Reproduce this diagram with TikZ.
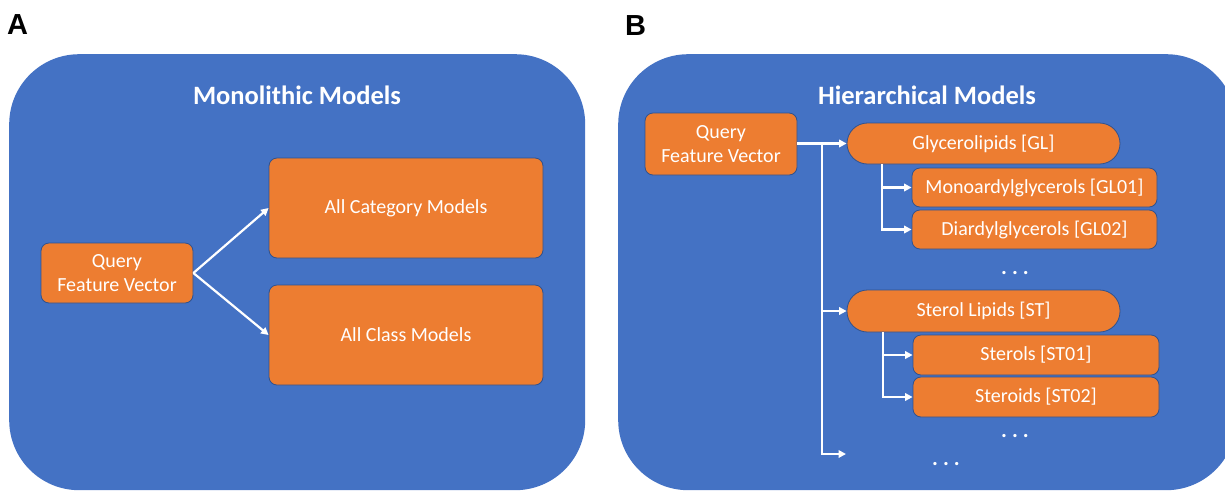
\documentclass[tikz,border=0pt]{standalone}
\usepackage{fontspec}
\setmainfont{Carlito}
\newfontfamily\labfont{Liberation Sans}
\usetikzlibrary{arrows.meta}
\definecolor{panelblue}{HTML}{4472C4}
\definecolor{boxorange}{HTML}{ED7D31}
\definecolor{boxline}{HTML}{2F528F}
\tikzset{
  panel/.style={fill=panelblue, rounded corners=70pt, inner sep=0pt, anchor=north west},
  obox/.style={fill=boxorange, draw=boxline, line width=0.8pt, rounded corners=8pt,
    text=white, font=\fontsize{20}{24}\selectfont, align=center, inner sep=0pt, anchor=center},
  pill/.style={obox, rounded corners=20.5pt},
  ttl/.style={text=white, font=\bfseries\fontsize{26.5}{30}\selectfont, anchor=base, inner sep=0pt},
  plabel/.style={font=\labfont\bfseries\fontsize{29}{32}\selectfont, anchor=base west, inner sep=0pt},
  dotsx/.style={text=white, font=\bfseries\fontsize{22}{24}\selectfont, inner sep=0pt},
  arr/.style={draw=white, line width=2.2pt, -{Triangle[length=7.5pt,width=7.5pt]}}
}
\begin{document}
\begin{tikzpicture}[x=1pt,y=-1pt]
\clip (0,0) rectangle (1225,491);
% panels
\node[panel, minimum width=576pt, minimum height=436pt] (pA) at (9,54) {};
\node[panel, minimum width=618pt, minimum height=436pt] (pB) at (618,54) {};
\node[plabel] (labA) at (7,34) {A};
\node[plabel] (labB) at (625,35) {B};
\node[ttl] (tA) at (297,104) {Monolithic Models};
\node[ttl] (tB) at (927,104) {Hierarchical Models};
% panel A
\node[obox, minimum width=152pt, minimum height=60pt] (qA) at (117,273) {Query\\Feature Vector};
\node[obox, minimum width=274pt, minimum height=100pt] (cat) at (406,208) {All Category Models};
\node[obox, minimum width=274pt, minimum height=100pt] (cls) at (406,335) {All Class Models};
\draw[arr] (qA.east) -- (cat.west);
\draw[arr] (qA.east) -- (cls.west);
% panel B
\node[obox, minimum width=152pt, minimum height=62pt] (qB) at (721,144) {Query\\Feature Vector};
\node[pill, minimum width=273pt, minimum height=41pt] (gl) at (983.5,143.5) {Glycerolipids [GL]};
\node[obox, minimum width=245pt, minimum height=39pt] (gl1) at (1034.5,187.5) {Monoardylglycerols [GL01]};
\node[obox, minimum width=245pt, minimum height=39pt] (gl2) at (1034.5,229.5) {Diardylglycerols [GL02]};
\node[dotsx] (d1) at (1015,273) {.\hspace{5pt}.\hspace{5pt}.};
\node[pill, minimum width=273pt, minimum height=42pt] (st) at (983.5,311) {Sterol Lipids [ST]};
\node[obox, minimum width=246pt, minimum height=40pt] (st1) at (1036,355) {Sterols [ST01]};
\node[obox, minimum width=246pt, minimum height=40pt] (st2) at (1036,397) {Steroids [ST02]};
\node[dotsx] (d2) at (1015,436) {.\hspace{5pt}.\hspace{5pt}.};
\node[dotsx] (d3) at (946,464) {.\hspace{5pt}.\hspace{5pt}.};
\coordinate (trunk) at (822,143.5);
\coordinate (endB) at (846,454);
\coordinate (gsub) at (882,164);
\coordinate (ssub) at (883,332);
\draw[arr] (qB.east |- gl.west) -- (gl.west);
\draw[arr] (trunk) |- (st.west);
\draw[arr] (trunk) |- (endB);
\draw[arr] (gsub) |- (gl1.west);
\draw[arr] (gsub) |- (gl2.west);
\draw[arr] (ssub) |- (st1.west);
\draw[arr] (ssub) |- (st2.west);
\end{tikzpicture}
\end{document}
